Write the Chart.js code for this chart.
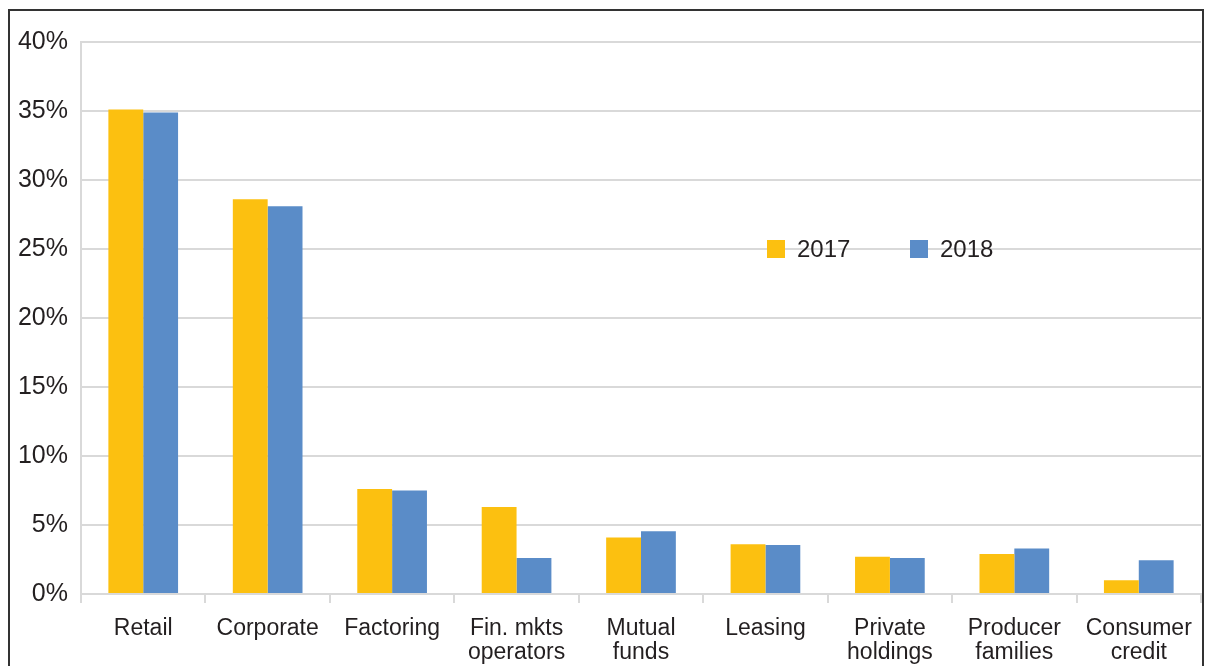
<!DOCTYPE html>
<html>
<head>
<meta charset="utf-8">
<script src="https://cdn.jsdelivr.net/npm/chart.js@4"></script>
<style>
  html, body { margin: 0; padding: 0; background: #fff; }
  #wrap { width: 1207px; height: 666px; }
</style>
</head>
<body>
<div id="wrap"><canvas id="shares" width="1207" height="666"></canvas></div>
<script>
const categories = [
  ["Retail"], ["Corporate"], ["Factoring"], ["Fin. mkts", "operators"],
  ["Mutual", "funds"], ["Leasing"], ["Private", "holdings"],
  ["Producer", "families"], ["Consumer", "credit"]
];
const share2017 = [35.1, 28.6, 7.6, 6.3, 4.1, 3.6, 2.7, 2.9, 1.0];
const share2018 = [34.9, 28.1, 7.5, 2.6, 4.55, 3.55, 2.6, 3.3, 2.45];
const yTicks = [0, 5, 10, 15, 20, 25, 30, 35, 40];

const colors = ["#FCC010", "#5A8CC8"];
const textColor = "#231f20";
const gridColor = "#d9d9d9";

// outer frame + legend sitting on the 25% line
const framePlugin = {
  id: "frame",
  afterDraw(chart) {
    const c = chart.ctx;
    c.save();
    c.strokeStyle = "#333";
    c.lineWidth = 2;
    c.strokeRect(9, 10, 1194, 700);

    const y = chart.scales.y.getPixelForValue(25);
    const items = [
      { x: 767, label: "2017", color: colors[0] },
      { x: 910, label: "2018", color: colors[1] },
    ];
    c.font = "24px 'Liberation Sans', Arial, sans-serif";
    c.textBaseline = "middle";
    items.forEach((it) => {
      c.fillStyle = it.color;
      c.fillRect(it.x, y - 9, 18, 18);
      c.fillStyle = textColor;
      c.fillText(it.label, it.x + 30, y + 1);
    });
    c.restore();
  },
};

new Chart(document.getElementById("shares").getContext("2d"), {
  type: "bar",
  data: {
    labels: categories,
    datasets: [
      { label: "2017", data: share2017, backgroundColor: colors[0] },
      { label: "2018", data: share2018, backgroundColor: colors[1] },
    ],
  },
  options: {
    responsive: false,
    animation: false,
    layout: { padding: { top: 42, right: 6, left: 0, bottom: 0 } },
    datasets: { bar: { categoryPercentage: 0.56, barPercentage: 1.0 } },
    plugins: { legend: { display: false }, tooltip: { enabled: false } },
    scales: {
      x: {
        grid: { offset: true, drawOnChartArea: false, color: gridColor, lineWidth: 2, tickLength: 9 },
        border: { color: gridColor, width: 2 },
        ticks: {
          color: textColor,
          padding: 14,
          maxRotation: 0,
          autoSkip: false,
          font: { family: "'Liberation Sans', Arial, sans-serif", size: 23, lineHeight: 1.02 },
        },
        afterFit(scale) { scale.height = 72; },
      },
      y: {
        min: 0,
        max: 40,
        afterBuildTicks(scale) { scale.ticks = yTicks.map((v) => ({ value: v })); },
        grid: { color: gridColor, lineWidth: 2, drawTicks: false },
        border: { color: gridColor, width: 2 },
        ticks: {
          color: textColor,
          padding: 13,
          font: { family: "'Liberation Sans', Arial, sans-serif", size: 25 },
          callback: (v) => v + "%",
        },
        afterFit(scale) { scale.width = 81; },
      },
    },
  },
  plugins: [framePlugin],
});
</script>
</body>
</html>
